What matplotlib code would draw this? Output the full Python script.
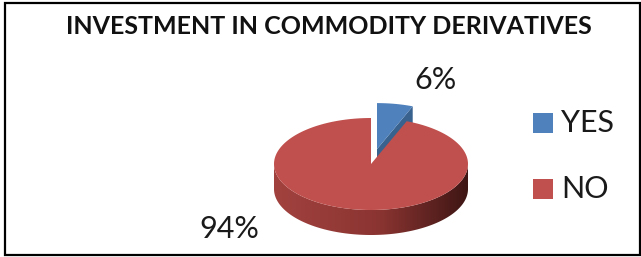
import numpy as np
import matplotlib.pyplot as plt
from matplotlib.colors import LinearSegmentedColormap, to_rgb
from matplotlib.patches import Polygon, Rectangle

# chart data
title = 'INVESTMENT IN COMMODITY DERIVATIVES'
labels = ['YES', 'NO']
values = [6, 94]
top_colors = ['#4f81bd', '#c0504d']
cut_colors = ['#3a628f', '#8f3a37']
side_colors = [['#3d6797', '#2f5078', '#1d3350'],
               ['#a2423f', '#8a3431', '#3e1614']]

plt.rcParams['font.family'] = ['Lato', 'DejaVu Sans']

fig = plt.figure(figsize=(6.41, 2.57), dpi=100)
ax = fig.add_axes([0, 0, 1, 1])

# outer frame
ax.add_patch(Rectangle((5, 2.5), 635, 252.5, fill=False, ec='black', lw=1.6))

ax.text(329, 27, title, ha='center', va='center', fontsize=18, fontweight='bold',
        color='#111111')

# 3D pie geometry (pixels)
cx, cy = 371, 164
a, b = 97, 46
depth = 25
explode = [0.33, 0.0]


def pt(theta, dx=0.0, dy=0.0):
    t = np.radians(theta)
    return cx + a * np.cos(t) + dx, cy - b * np.sin(t) + dy


fracs = np.array(values) / np.sum(values)
starts = 90 - 360 * np.concatenate([[0], np.cumsum(fracs)[:-1]])
ends = starts - 360 * fracs

for i in range(len(values)):
    t0, t1 = starts[i], ends[i]
    mid = np.radians((t0 + t1) / 2)
    dx = a * explode[i] * np.cos(mid)
    dy = -b * explode[i] * np.sin(mid)
    col = top_colors[i]

    # cut face at the end angle, seen when it turns towards the viewer
    n = np.radians(t1 - 90)
    if np.sin(n) < 0:
        c = (cx + dx, cy + dy)
        e = pt(t1, dx, dy)
        face = [c, e, (e[0], e[1] + depth), (c[0], c[1] + depth)]
        ax.add_patch(Polygon(face, closed=True, fc=cut_colors[i], ec='none'))

    # outer side, front half only, with a left-to-right shade
    lo, hi = max(t1, -180), min(t0, 0)
    if hi > lo:
        th = np.linspace(hi, lo, 200)
        upper = [pt(t, dx, dy) for t in th]
        lower = [(x, y + depth) for x, y in upper[::-1]]
        side = Polygon(upper + lower, closed=True, fc='none', ec='none')
        ax.add_patch(side)
        xs = [p[0] for p in upper]
        ys = [p[1] for p in upper]
        cmap = LinearSegmentedColormap.from_list(
            'side%d' % i, [(0, side_colors[i][0]), (0.55, side_colors[i][1]),
                           (1, side_colors[i][2])])
        grad = np.linspace(0, 1, 256)[None, :]
        im = ax.imshow(grad, cmap=cmap, aspect='auto', interpolation='bilinear',
                       extent=(min(xs), max(xs), max(ys) + depth, min(ys)))
        im.set_clip_path(side)

    # top face
    th = np.linspace(t0, t1, 200)
    top = [(cx + dx, cy + dy)] + [pt(t, dx, dy) for t in th]
    ax.add_patch(Polygon(top, closed=True, fc=col, ec='none'))

# percentage labels
pct = ['%d%%' % v for v in values]
ax.text(435.5, 80, pct[0], ha='center', va='center', fontsize=22, color='#1a1a1a')
ax.text(229.5, 229, pct[1], ha='center', va='center', fontsize=22, color='#1a1a1a')

# legend
for i, lab in enumerate(labels):
    y = 123 + i * 66
    ax.add_patch(Rectangle((533, y - 10), 20, 20, fc=top_colors[i], ec='none'))
    ax.text(561, y, lab, ha='left', va='center', fontsize=22, color='#1a1a1a')

ax.set_xlim(0, 641)
ax.set_ylim(257, 0)
ax.axis('off')

fig.savefig('out.png', dpi=100)
